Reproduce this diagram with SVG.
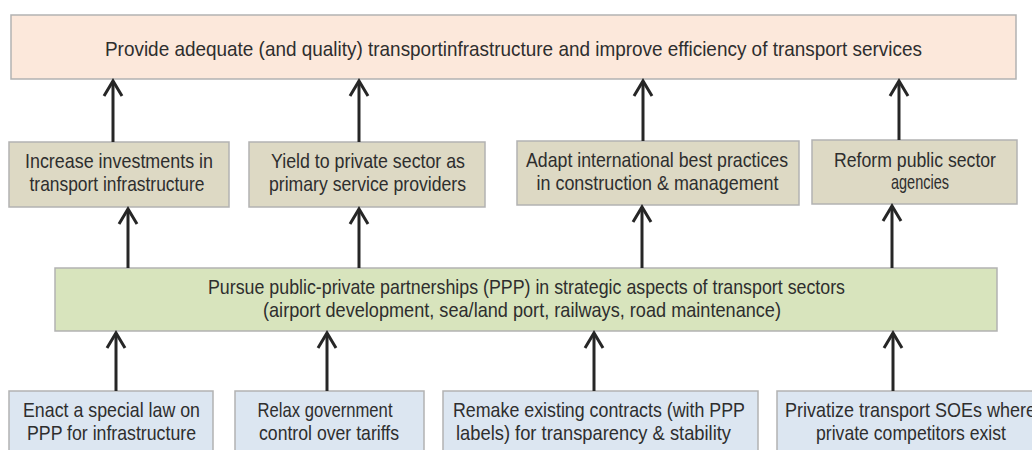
<svg xmlns="http://www.w3.org/2000/svg" width="1032" height="450" viewBox="0 0 1032 450">
  <style>
    .box { stroke: #b2b2b2; stroke-width: 1.5; }
    .goal { fill: #fce8db; }
    .means { fill: #ddd9c4; }
    .core { fill: #d8e4bd; }
    .action { fill: #dce6f1; }
    text { font-family: "Liberation Sans", Arial, sans-serif; font-size: 21px; fill: #2e2e2e; text-anchor: middle; }
    .conn line { stroke: #262626; stroke-width: 3; marker-end: url(#head); }
  </style>
  <defs>
    <marker id="head" markerUnits="userSpaceOnUse" markerWidth="20" markerHeight="20" refX="0" refY="0" orient="auto" overflow="visible">
      <path d="M-15,-9 L0,0 L-15,9" fill="none" stroke="#262626" stroke-width="3" stroke-linejoin="miter"/>
    </marker>
  </defs>
  <rect width="1032" height="450" fill="#ffffff"/>

  <!-- overall goal -->
  <g id="goal">
    <rect class="box goal" x="11" y="15" width="1005" height="64"/>
    <text x="513.5" y="56" textLength="817" lengthAdjust="spacingAndGlyphs">Provide adequate (and quality) transportinfrastructure and improve efficiency of transport services</text>
  </g>

  <!-- intermediate objectives -->
  <g id="invest">
    <rect class="box means" x="9" y="142" width="220" height="65"/>
    <text x="119" y="168" textLength="188" lengthAdjust="spacingAndGlyphs">Increase investments in</text>
    <text x="117" y="191" textLength="175" lengthAdjust="spacingAndGlyphs">transport infrastructure</text>
  </g>
  <g id="yield">
    <rect class="box means" x="249" y="142" width="236" height="65"/>
    <text x="368" y="168" textLength="194" lengthAdjust="spacingAndGlyphs">Yield to private sector as</text>
    <text x="367.5" y="191" textLength="197" lengthAdjust="spacingAndGlyphs">primary service providers</text>
  </g>
  <g id="adapt">
    <rect class="box means" x="517" y="141" width="282" height="64"/>
    <text x="657" y="167" textLength="262" lengthAdjust="spacingAndGlyphs">Adapt international best practices</text>
    <text x="657.5" y="190" textLength="242" lengthAdjust="spacingAndGlyphs">in construction &amp; management</text>
  </g>
  <g id="reform">
    <rect class="box means" x="812" y="140" width="205" height="64"/>
    <text x="915" y="166.5" textLength="162" lengthAdjust="spacingAndGlyphs">Reform public sector</text>
    <text x="920" y="189" textLength="58" lengthAdjust="spacingAndGlyphs">agencies</text>
  </g>

  <!-- central strategy -->
  <g id="ppp">
    <rect class="box core" x="55" y="268" width="942" height="63"/>
    <text x="526.5" y="294" textLength="637" lengthAdjust="spacingAndGlyphs">Pursue public-private partnerships (PPP) in strategic aspects of transport sectors</text>
    <text x="522" y="317" textLength="518" lengthAdjust="spacingAndGlyphs">(airport development, sea/land port, railways, road maintenance)</text>
  </g>

  <!-- policy actions -->
  <g id="law">
    <rect class="box action" x="9" y="391" width="204" height="70"/>
    <text x="111.5" y="417" textLength="177" lengthAdjust="spacingAndGlyphs">Enact a special law on</text>
    <text x="111.5" y="440" textLength="169" lengthAdjust="spacingAndGlyphs">PPP for infrastructure</text>
  </g>
  <g id="tariffs">
    <rect class="box action" x="235" y="391" width="189" height="70"/>
    <text x="325" y="417" textLength="135" lengthAdjust="spacingAndGlyphs">Relax government</text>
    <text x="329" y="440" textLength="140" lengthAdjust="spacingAndGlyphs">control over tariffs</text>
  </g>
  <g id="contracts">
    <rect class="box action" x="443" y="391" width="315" height="70"/>
    <text x="599" y="417" textLength="292" lengthAdjust="spacingAndGlyphs">Remake existing contracts (with PPP</text>
    <text x="593.5" y="440" textLength="275" lengthAdjust="spacingAndGlyphs">labels) for transparency &amp; stability</text>
  </g>
  <g id="privatize">
    <rect class="box action" x="777" y="391" width="270" height="70"/>
    <text x="785" y="417" textLength="251" lengthAdjust="spacingAndGlyphs" style="text-anchor:start">Privatize transport SOEs where</text>
    <text x="911" y="440" textLength="190" lengthAdjust="spacingAndGlyphs">private competitors exist</text>
  </g>

  <!-- connectors -->
  <g id="connectors" class="conn">
    <line x1="113" y1="142" x2="113" y2="81"/>
    <line x1="359" y1="142" x2="359" y2="81"/>
    <line x1="643" y1="141" x2="643" y2="81"/>
    <line x1="899" y1="140" x2="899" y2="81"/>

    <line x1="128" y1="268" x2="128" y2="209"/>
    <line x1="359" y1="268" x2="359" y2="209"/>
    <line x1="642" y1="268" x2="642" y2="207"/>
    <line x1="892" y1="268" x2="892" y2="206"/>

    <line x1="116" y1="391" x2="116" y2="333"/>
    <line x1="327" y1="391" x2="327" y2="333"/>
    <line x1="594" y1="391" x2="594" y2="333"/>
    <line x1="893" y1="391" x2="893" y2="333"/>
  </g>
</svg>
